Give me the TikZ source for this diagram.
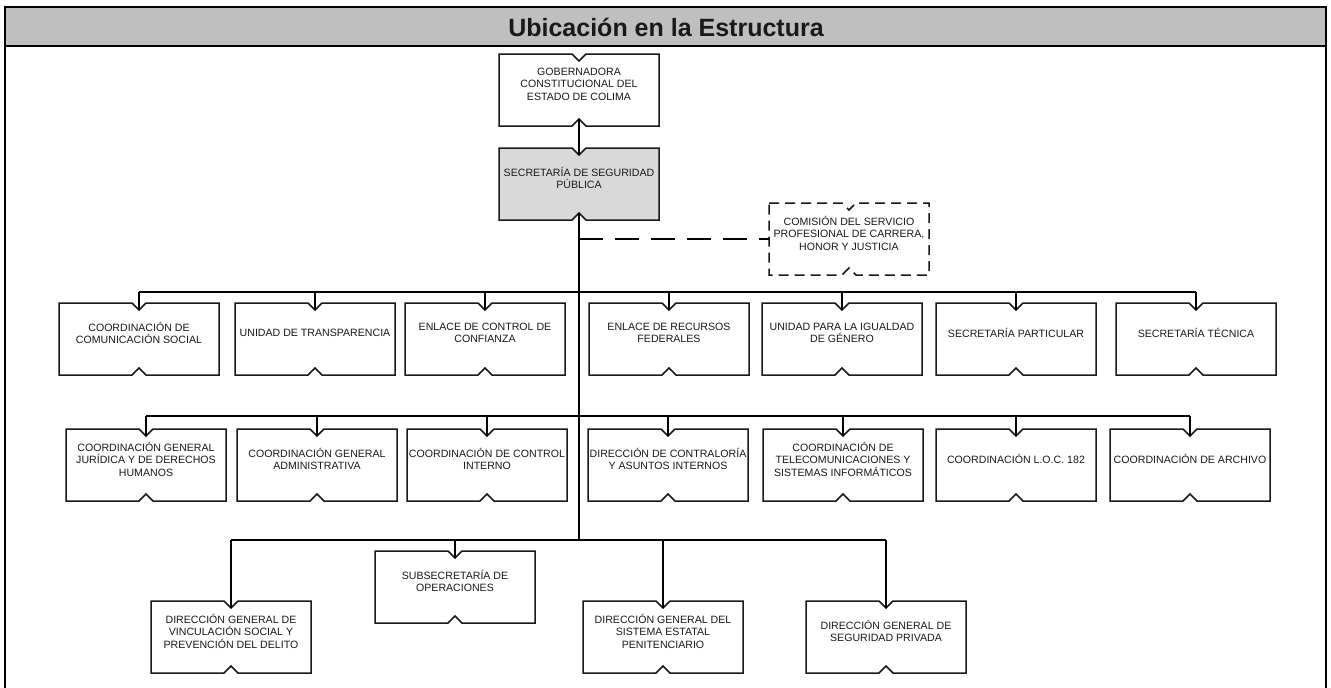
\documentclass[tikz,border=0pt]{standalone}
\usepackage{fontspec}
\setmainfont{Liberation Sans}
\usetikzlibrary{calc}
\pgfdeclarelayer{bg}
\pgfsetlayers{bg,main}
\tikzset{
  boxgeom/.style={draw=none, inner sep=0pt, outer sep=0pt, minimum height=72pt},
  boxtext/.style={align=center, font=\fontsize{10.6}{12.5}\selectfont, inner sep=0pt, text=black!90},
  boxline/.style={draw=black!90, line width=1.5pt, fill=white, line join=miter},
  graybox/.style={boxline, fill=gray!30},
  dashbox/.style={boxline, dash pattern=on 10pt off 6pt},
  conn/.style={draw=black, line width=1.4pt},
  trunkline/.style={draw=black, line width=2pt},
  dashconn/.style={draw=black, line width=1.4pt, dash pattern=on 24pt off 12pt},
}
\newcommand\obox[6][boxline]{%
  \node[boxgeom, minimum width=#5] (#2) at ({#3},{#4+36}) {};
  \node[boxtext] (#2-t) at ($(#2.center)+(0,-6)$) {#6};
  \coordinate (#2-in) at ($(#2.north)+(0,7)$);
  \coordinate (#2-out) at ($(#2.south)+(0,-7)$);
  \begin{pgfonlayer}{bg}
  \path[#1] (#2.north west) -- ($(#2.north)+(-7,0)$) -- (#2-in) -- ($(#2.north)+(7,0)$) -- (#2.north east) -- (#2.south east) -- ($(#2.south)+(7,0)$) -- (#2-out) -- ($(#2.south)+(-7,0)$) -- (#2.south west) -- cycle;
  \end{pgfonlayer}
}
\begin{document}
\begin{tikzpicture}[x=1pt,y=-1pt]
\useasboundingbox (0,0) rectangle (1331,688);
% frame and title bar
\fill[gray!50] (5,7) rectangle (1326,46);
\draw[line width=2pt] (5,700) -- (5,7) -- (1326,7) -- (1326,700);
\draw[line width=2pt] (5,46) -- (1326,46);
\node[font=\fontsize{25}{28}\selectfont\bfseries, text=black!90] (title) at (666,27) {Ubicación en la Estructura};

% top
\obox{gov}{579}{54}{160}{GOBERNADORA\\CONSTITUCIONAL DEL\\ESTADO DE COLIMA}
\obox[graybox]{sec}{579}{148}{160}{SECRETARÍA DE SEGURIDAD\\PÚBLICA}
\obox[dashbox]{com}{849}{203}{160}{COMISIÓN DEL SERVICIO\\PROFESIONAL DE CARRERA,\\HONOR Y JUSTICIA}

% row 1
\obox{ra}{139}{303}{160}{COORDINACIÓN DE\\COMUNICACIÓN SOCIAL}
\obox{rb}{315}{303}{160}{UNIDAD DE TRANSPARENCIA}
\obox{rc}{485}{303}{160}{ENLACE DE CONTROL DE\\CONFIANZA}
\obox{rd}{669}{303}{160}{ENLACE DE RECURSOS\\FEDERALES}
\obox{re}{842}{303}{160}{UNIDAD PARA LA IGUALDAD\\DE GÉNERO}
\obox{rf}{1016}{303}{160}{SECRETARÍA PARTICULAR}
\obox{rg}{1196}{303}{160}{SECRETARÍA TÉCNICA}

% row 2
\obox{sa}{146}{429}{160}{COORDINACIÓN GENERAL\\JURÍDICA Y DE DERECHOS\\HUMANOS}
\obox{sb}{317}{429}{160}{COORDINACIÓN GENERAL\\ADMINISTRATIVA}
\obox{sc}{487}{429}{160}{COORDINACIÓN DE CONTROL\\INTERNO}
\obox{sd}{668}{429}{160}{DIRECCIÓN DE CONTRALORÍA\\Y ASUNTOS INTERNOS}
\obox{se}{843}{429}{160}{COORDINACIÓN DE\\TELECOMUNICACIONES Y\\SISTEMAS INFORMÁTICOS}
\obox{sf}{1016}{429}{160}{COORDINACIÓN L.O.C. 182}
\obox{sg}{1190}{429}{160}{COORDINACIÓN DE ARCHIVO}

% row 3
\obox{ta}{231}{601}{160}{DIRECCIÓN GENERAL DE\\VINCULACIÓN SOCIAL Y\\PREVENCIÓN DEL DELITO}
\obox{tb}{455}{551}{160}{SUBSECRETARÍA DE\\OPERACIONES}
\obox{tc}{663}{601}{160}{DIRECCIÓN GENERAL DEL\\SISTEMA ESTATAL\\PENITENCIARIO}
\obox{td}{886}{601}{160}{DIRECCIÓN GENERAL DE\\SEGURIDAD PRIVADA}

% junctions on the trunk
\coordinate (jd) at (579,239);
\coordinate (bus1) at (579,292);
\coordinate (bus2) at (579,416);
\coordinate (bus3) at (579,540);

% connectors
\draw[conn] (gov-out) -- (sec-in);
\draw[dashconn] (jd) -- (com.west);

\draw[conn] (bus1 -| ra-in) -- (bus1 -| rg-in);
\foreach \n in {ra,rb,rc,rd,re,rf,rg} \draw[conn] (bus1 -| \n-in) -- (\n-in);

\draw[conn] (bus2 -| sa-in) -- (bus2 -| sg-in);
\foreach \n in {sa,sb,sc,sd,se,sf,sg} \draw[conn] (bus2 -| \n-in) -- (\n-in);

\draw[conn] (bus3 -| ta-in) -- (bus3 -| td-in);
\foreach \n in {ta,tb,tc,td} \draw[conn] (bus3 -| \n-in) -- (\n-in);

\draw[trunkline] (sec-out) -- (bus3);
\end{tikzpicture}
\end{document}
